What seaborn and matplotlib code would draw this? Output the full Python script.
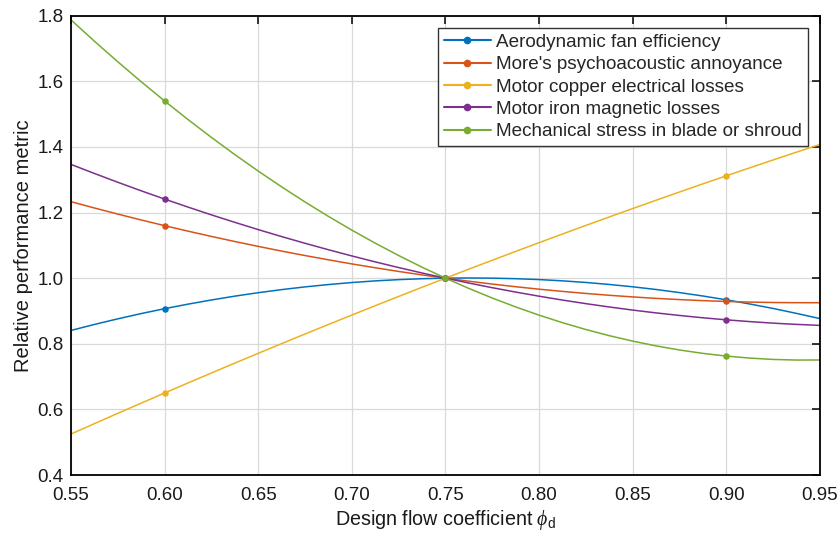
import numpy as np
import pandas as pd
import matplotlib
matplotlib.use("Agg")
import matplotlib.pyplot as plt
from matplotlib.lines import Line2D
import seaborn as sns

phi = [0.55, 0.5625, 0.575, 0.5875, 0.60, 0.6125, 0.625, 0.6375, 0.65,
       0.6625, 0.675, 0.6875, 0.70, 0.7125, 0.725, 0.7375, 0.75,
       0.7625, 0.775, 0.7875, 0.80, 0.8125, 0.825, 0.8375, 0.85,
       0.8625, 0.875, 0.8875, 0.90, 0.9125, 0.925, 0.9375, 0.95]
efficiency = [0.8407, 0.8589, 0.8760, 0.8921, 0.9070, 0.9208, 0.9335, 0.9452, 0.9557,
              0.9651, 0.9734, 0.9805, 0.9867, 0.9917, 0.9955, 0.9983, 1.0000,
              1.0006, 1.0000, 0.9984, 0.9957, 0.9918, 0.9869, 0.9808, 0.9737,
              0.9654, 0.9560, 0.9456, 0.9340, 0.9213, 0.9076, 0.8926, 0.8767]
annoyance = [1.2331, 1.2139, 1.1953, 1.1774, 1.1600, 1.1433, 1.1272, 1.1117, 1.0968,
             1.0825, 1.0689, 1.0559, 1.0434, 1.0317, 1.0205, 1.0099, 1.0000,
             0.9907, 0.9820, 0.9739, 0.9664, 0.9596, 0.9534, 0.9478, 0.9428,
             0.9384, 0.9347, 0.9315, 0.9290, 0.9271, 0.9258, 0.9252, 0.9251]
copper = [0.5249, 0.5566, 0.5880, 0.6191, 0.6500, 0.6806, 0.7110, 0.7411, 0.7709,
          0.8005, 0.8298, 0.8588, 0.8876, 0.9161, 0.9443, 0.9723, 1.0000,
          1.0275, 1.0546, 1.0816, 1.1082, 1.1346, 1.1608, 1.1866, 1.2122,
          1.2376, 1.2626, 1.2875, 1.3120, 1.3363, 1.3603, 1.3841, 1.4076]
iron = [1.3467, 1.3191, 1.2923, 1.2662, 1.2410, 1.2166, 1.1929, 1.1701, 1.1480,
        1.1267, 1.1063, 1.0866, 1.0677, 1.0496, 1.0323, 1.0157, 1.0000,
        0.9851, 0.9709, 0.9576, 0.9450, 0.9332, 0.9223, 0.9121, 0.9027,
        0.8941, 0.8863, 0.8792, 0.8730, 0.8676, 0.8629, 0.8591, 0.8560]
stress = [1.7872, 1.7223, 1.6594, 1.5987, 1.5400, 1.4834, 1.4290, 1.3766, 1.3264,
          1.2782, 1.2322, 1.1882, 1.1464, 1.1066, 1.0690, 1.0334, 1.0000,
          0.9687, 0.9394, 0.9123, 0.8872, 0.8643, 0.8434, 0.8247, 0.8081,
          0.7935, 0.7811, 0.7707, 0.7625, 0.7564, 0.7523, 0.7504, 0.7506]

marker_phi = [0.60, 0.75, 0.90]
efficiency_pts = [0.907, 1.000, 0.934]
annoyance_pts = [1.160, 1.000, 0.929]
copper_pts = [0.650, 1.000, 1.312]
iron_pts = [1.241, 1.000, 0.873]
stress_pts = [1.540, 1.000, 0.7625]

labels = ["Aerodynamic fan efficiency",
          "More's psychoacoustic annoyance",
          "Motor copper electrical losses",
          "Motor iron magnetic losses",
          "Mechanical stress in blade or shroud"]
curves = [efficiency, annoyance, copper, iron, stress]
points = [efficiency_pts, annoyance_pts, copper_pts, iron_pts, stress_pts]
colors = ["#0072BD", "#D95319", "#EDB120", "#7E2F8E", "#77AC30"]

xticks = [0.55, 0.60, 0.65, 0.70, 0.75, 0.80, 0.85, 0.90, 0.95]
yticks = [0.4, 0.6, 0.8, 1.0, 1.2, 1.4, 1.6, 1.8]

# ---- style ----
sns.set_theme(style="white")
plt.rcParams["font.family"] = ["Liberation Sans", "DejaVu Sans"]
plt.rcParams["mathtext.fontset"] = "custom"
plt.rcParams["mathtext.it"] = "Liberation Serif:italic"
plt.rcParams["mathtext.rm"] = "Liberation Sans"

fig = plt.figure(figsize=(8.38, 5.35), dpi=100)
ax = fig.add_axes([0.0847, 0.1121, 0.8938, 0.8586])

for lab, ys, pts, c in zip(labels, curves, points, colors):
    df = pd.DataFrame({"phi": phi, "val": ys})
    sns.lineplot(data=df, x="phi", y="val", color=c, lw=1.1, ax=ax,
                 estimator=None, sort=False, legend=False)
    dm = pd.DataFrame({"phi": marker_phi, "val": pts})
    sns.scatterplot(data=dm, x="phi", y="val", color=c, s=22, edgecolor=c,
                    linewidth=0, ax=ax, legend=False, zorder=3)

ax.set_xlim(0.55, 0.95)
ax.set_ylim(0.4, 1.8)
ax.set_xticks(xticks)
ax.set_xticklabels([f"{v:.2f}" for v in xticks])
ax.set_yticks(yticks)
ax.set_yticklabels([f"{v:.1f}" for v in yticks])
ax.grid(True, color="#d9d9d9", lw=0.9)
ax.set_axisbelow(True)
for s in ax.spines.values():
    s.set_visible(True)
    s.set_color("black")
    s.set_linewidth(1.3)
ax.tick_params(direction="in", length=6, width=1.1, top=True, right=True,
               labelsize=13.5, colors="black")
ax.tick_params(axis="x", labelcolor="#1a1a1a", pad=8.5)
ax.tick_params(axis="y", labelcolor="#1a1a1a", pad=5.5)

ax.set_xlabel(r"Design flow coefficient $\mathit{\phi}_{\mathrm{d}}$",
              fontsize=14.2, color="#1a1a1a", labelpad=3)
ax.set_ylabel("Relative performance metric", fontsize=14.5,
              color="#1a1a1a", labelpad=3)

handles = [Line2D([], [], color=c, lw=1.5, marker="o", ms=4.5) for c in colors]
leg = ax.legend(handles, labels, loc="upper right",
                bbox_to_anchor=(0.984, 0.973), borderaxespad=0,
                fontsize=13.6, frameon=True, fancybox=False,
                handlelength=2.5, handletextpad=0.3, labelspacing=0.27,
                borderpad=0.3, edgecolor="#333333", framealpha=1)
leg.get_frame().set_linewidth(1.0)

fig.savefig("out.png", dpi=100)
